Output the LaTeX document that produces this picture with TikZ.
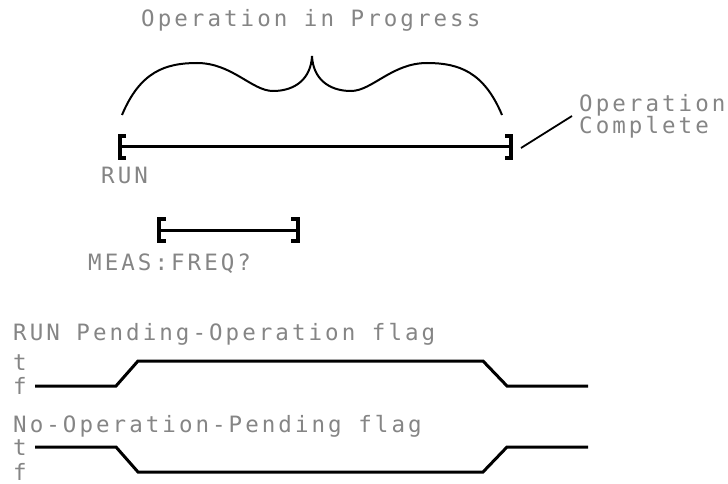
\documentclass[tikz,border=0pt]{standalone}
\usepackage{fontspec}
\newfontfamily\plotfont{DejaVu Sans Mono}[LetterSpace=13.5]
\usepackage{tikz}

\begin{document}
\begin{tikzpicture}[x=1pt, y=-1pt,
    lbl/.style={font=\plotfont\fontsize{22.5}{22}\selectfont, text=black!48, inner sep=0pt},
    span/.style={line width=3pt},
    brk/.style={line width=4pt},
    wave/.style={line width=3pt}]
  \useasboundingbox (0,0) rectangle (728,484);

  % Brace over the running operation
  \node[lbl, anchor=base west] (title) at (141,27) {Operation in Progress};
  \draw[line width=2pt] (122,115) .. controls (140,72) and (165,63) .. (197,63)
    .. controls (232,63) and (252,91) .. (273,91)
    .. controls (296,91) and (311,78) .. (312,56)
    .. controls (313,78) and (328,91) .. (351,91)
    .. controls (372,91) and (392,63) .. (427,63)
    .. controls (459,63) and (484,72) .. (502,115);

  % RUN interval
  \draw[brk] (126,136) -- (120,136) -- (120,158) -- (126,158);
  \draw[span] (122,147) -- (509,147);
  \draw[brk] (505,136) -- (511,136) -- (511,158) -- (505,158);
  \node[lbl, anchor=base west] (run) at (101,183) {RUN};

  % completion note
  \coordinate (runend) at (521,148);
  \node[lbl, align=left, anchor=west, inner xsep=7pt] (done) at (572,116) {Operation\\Complete};
  \draw[line width=1.8pt] (runend) -- (done.west);

  % MEAS:FREQ? interval
  \draw[brk] (166,219) -- (159,219) -- (159,241) -- (166,241);
  \draw[span] (161,230) -- (296,230);
  \draw[brk] (291,219) -- (298,219) -- (298,241) -- (291,241);
  \node[lbl, anchor=base west] (meas) at (88,270) {MEAS:FREQ?};

  % RUN pending flag
  \node[lbl, anchor=base west] (pendflag) at (13,340) {RUN Pending-Operation flag};
  \node[lbl, anchor=base west] (t1) at (13,370) {t};
  \node[lbl, anchor=base west] (f1) at (13,394) {f};
  \draw[wave] (35,386) -- (116,386) -- (138,361) -- (483,361) -- (507,386) -- (588,386);

  % no pending flag
  \node[lbl, anchor=base west] (nopflag) at (13,432) {No-Operation-Pending flag};
  \node[lbl, anchor=base west] (t2) at (13,455) {t};
  \node[lbl, anchor=base west] (f2) at (13,480) {f};
  \draw[wave] (35,447) -- (116,447) -- (138,472) -- (483,472) -- (507,447) -- (588,447);
\end{tikzpicture}
\end{document}
